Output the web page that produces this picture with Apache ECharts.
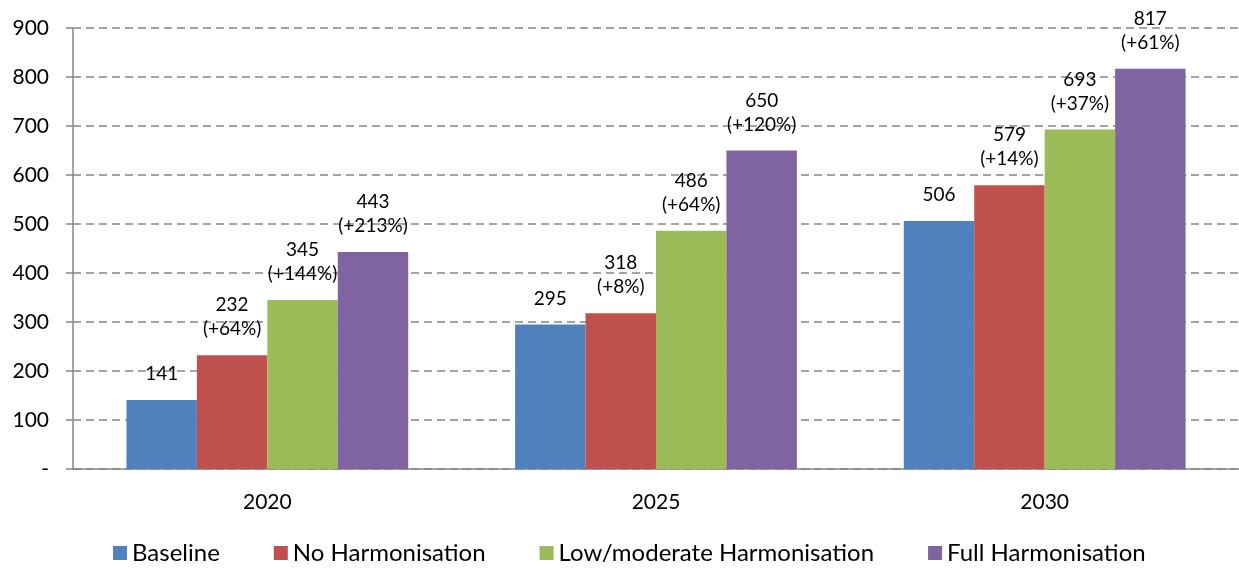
<!DOCTYPE html>
<html><head><meta charset="utf-8">
<script src="https://cdn.jsdelivr.net/npm/echarts@6/dist/echarts.min.js"></script>
<style>html,body{margin:0;padding:0;background:#fff}#c{width:1239px;height:568px}</style>
</head><body><div id="c"></div>
<script>
const categories = ['2020', '2025', '2030'];
const seriesNames = ['Baseline', 'No Harmonisation', 'Low/moderate Harmonisation', 'Full Harmonisation'];
const baseline = [141, 295, 506];
const noHarm = [232, 318, 579];
const lowHarm = [345, 486, 693];
const fullHarm = [443, 650, 817];
const noHarmPct = ['+64%', '+8%', '+14%'];
const lowHarmPct = ['+144%', '+64%', '+37%'];
const fullHarmPct = ['+213%', '+120%', '+61%'];
const yTicks = ['-', '100', '200', '300', '400', '500', '600', '700', '800', '900'];
const colors = ['#4F81BD', '#C0504D', '#9BBB59', '#8064A2'];

const FONT = 'Lato';
const values = [baseline, noHarm, lowHarm, fullHarm];
const pcts = [null, noHarmPct, lowHarmPct, fullHarmPct];

const chart = echarts.init(document.getElementById('c'));
chart.setOption({
  animation: false,
  color: colors,
  textStyle: { fontFamily: FONT },
  grid: { left: 73, right: 0, top: 28, bottom: 99, containLabel: false },
  legend: {
    bottom: -2, left: 108, itemWidth: 14, itemHeight: 14, itemGap: 54,
    icon: 'rect',
    textStyle: { fontFamily: FONT, fontSize: 24, color: '#000' },
    data: seriesNames
  },
  xAxis: {
    type: 'category', data: categories,
    axisLine: { lineStyle: { color: '#868686', width: 1.5 } },
    axisTick: { alignWithLabel: true, length: 6, lineStyle: { color: '#868686', width: 1.5 } },
    axisLabel: { fontSize: 21, color: '#000', margin: 23, fontFamily: FONT }
  },
  yAxis: {
    type: 'value', min: 0, max: 900, interval: 100,
    axisLine: { show: true, lineStyle: { color: '#868686', width: 1.5 } },
    axisTick: { show: true, length: 7, lineStyle: { color: '#868686', width: 1.5 } },
    splitLine: { lineStyle: { color: '#868686', type: [8, 5], width: 1.5 } },
    axisLabel: {
      fontSize: 21, color: '#000', margin: 24, fontFamily: FONT,
      formatter: function (v) { return yTicks[Math.round(v / 100)]; }
    }
  },
  series: values.map(function (arr, i) {
    return {
      name: seriesNames[i], type: 'bar', data: arr,
      barGap: '0%', barCategoryGap: '27.5%',
      itemStyle: { color: colors[i] },
      label: {
        show: true, position: 'top', distance: 14, color: '#000',
        fontSize: 19, lineHeight: 24, fontFamily: FONT,
        formatter: function (p) {
          return pcts[i] ? p.value + '\n(' + pcts[i][p.dataIndex] + ')' : String(p.value);
        }
      }
    };
  })
});
</script></body></html>
